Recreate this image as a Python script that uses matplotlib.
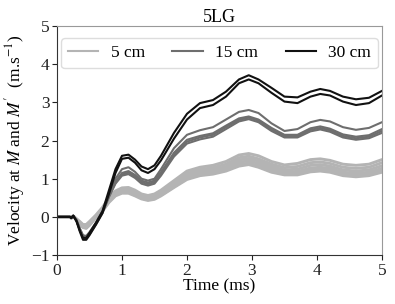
import matplotlib
matplotlib.use("Agg")
import matplotlib.pyplot as plt
import numpy as np

# time grid (ms)
t = [0, 0.1, 0.2, 0.22, 0.25, 0.3, 0.35, 0.4, 0.45, 0.5, 0.6, 0.7, 0.8, 0.9,
     1.0, 1.1, 1.2, 1.3, 1.4, 1.5, 1.6, 1.8, 2.0, 2.2, 2.4, 2.6, 2.8, 2.95,
     3.1, 3.3, 3.5, 3.7, 3.9, 4.05, 4.2, 4.4, 4.6, 4.8, 5.0]

# 5 cm gauges (light grey band)
v5_a = [0, 0, 0, -0.03, 0.02, -0.05, -0.12, -0.2, -0.2, -0.12, 0.05, 0.25, 0.5, 0.68,
        0.76, 0.77, 0.7, 0.6, 0.56, 0.6, 0.7, 0.95, 1.2, 1.3, 1.35, 1.45, 1.62, 1.66,
        1.6, 1.45, 1.36, 1.4, 1.5, 1.52, 1.48, 1.38, 1.35, 1.38, 1.5]
v5_b = [0, 0, 0, -0.03, 0.02, -0.06, -0.14, -0.22, -0.23, -0.15, 0.03, 0.22, 0.46, 0.64,
        0.72, 0.73, 0.66, 0.57, 0.52, 0.56, 0.66, 0.9, 1.14, 1.24, 1.29, 1.38, 1.55, 1.59,
        1.52, 1.38, 1.29, 1.32, 1.42, 1.44, 1.4, 1.3, 1.27, 1.3, 1.42]
v5_c = [0, 0, 0, -0.03, 0.02, -0.07, -0.15, -0.24, -0.25, -0.17, 0.01, 0.2, 0.44, 0.61,
        0.69, 0.7, 0.63, 0.54, 0.5, 0.53, 0.62, 0.86, 1.09, 1.19, 1.23, 1.32, 1.49, 1.53,
        1.46, 1.32, 1.23, 1.25, 1.35, 1.37, 1.33, 1.23, 1.2, 1.23, 1.34]
v5_d = [0, 0, 0, -0.03, 0.02, -0.07, -0.16, -0.25, -0.27, -0.19, -0.0, 0.18, 0.42, 0.59,
        0.66, 0.67, 0.6, 0.51, 0.47, 0.5, 0.59, 0.82, 1.05, 1.15, 1.19, 1.27, 1.43, 1.47,
        1.4, 1.26, 1.18, 1.19, 1.28, 1.3, 1.27, 1.17, 1.14, 1.17, 1.27]
v5_e = [0, 0, 0, -0.03, 0.02, -0.08, -0.17, -0.27, -0.29, -0.21, -0.01, 0.16, 0.4, 0.57,
        0.64, 0.64, 0.57, 0.49, 0.45, 0.48, 0.57, 0.79, 1.01, 1.11, 1.15, 1.23, 1.37, 1.41,
        1.34, 1.21, 1.13, 1.14, 1.23, 1.25, 1.22, 1.12, 1.09, 1.12, 1.22]
v5_f = [0, 0, 0, -0.03, 0.02, -0.08, -0.18, -0.28, -0.3, -0.22, -0.02, 0.15, 0.38, 0.55,
        0.62, 0.62, 0.55, 0.47, 0.43, 0.46, 0.55, 0.77, 0.98, 1.08, 1.12, 1.2, 1.33, 1.37,
        1.3, 1.17, 1.1, 1.1, 1.18, 1.2, 1.17, 1.08, 1.05, 1.08, 1.17]

# 15 cm gauges (mid grey)
v15_a = [0, 0, 0, -0.03, 0.03, -0.08, -0.3, -0.48, -0.5, -0.4, -0.15, 0.15, 0.6, 1.0,
         1.25, 1.3, 1.18, 1.0, 0.95, 1.0, 1.25, 1.8, 2.15, 2.27, 2.35, 2.55, 2.75, 2.8,
         2.72, 2.45, 2.25, 2.3, 2.48, 2.54, 2.5, 2.35, 2.28, 2.33, 2.48]
v15_b = [0, 0, 0, -0.03, 0.03, -0.09, -0.31, -0.5, -0.52, -0.42, -0.17, 0.13, 0.56, 0.93,
         1.15, 1.2, 1.1, 0.95, 0.9, 0.95, 1.17, 1.68, 2.02, 2.12, 2.19, 2.39, 2.58, 2.63,
         2.55, 2.33, 2.15, 2.15, 2.32, 2.37, 2.31, 2.16, 2.1, 2.14, 2.3]
v15_c = [0, 0, 0, -0.03, 0.03, -0.09, -0.32, -0.52, -0.54, -0.44, -0.18, 0.12, 0.54, 0.9,
         1.11, 1.16, 1.06, 0.91, 0.86, 0.91, 1.13, 1.63, 1.97, 2.08, 2.15, 2.35, 2.54, 2.6,
         2.52, 2.29, 2.12, 2.12, 2.28, 2.33, 2.27, 2.12, 2.06, 2.1, 2.25]
v15_d = [0, 0, 0, -0.03, 0.03, -0.1, -0.33, -0.53, -0.56, -0.46, -0.2, 0.1, 0.52, 0.87,
         1.08, 1.12, 1.02, 0.87, 0.82, 0.87, 1.08, 1.58, 1.92, 2.03, 2.1, 2.3, 2.5, 2.56,
         2.48, 2.25, 2.08, 2.08, 2.24, 2.29, 2.23, 2.08, 2.02, 2.06, 2.2]

# 30 cm gauges (black)
v30_a = [0, 0, 0, -0.03, 0.03, -0.1, -0.35, -0.55, -0.55, -0.42, -0.15, 0.15, 0.7, 1.25,
         1.6, 1.63, 1.5, 1.32, 1.25, 1.35, 1.6, 2.2, 2.7, 2.98, 3.06, 3.28, 3.6, 3.71,
         3.6, 3.38, 3.15, 3.13, 3.28, 3.35, 3.3, 3.15, 3.08, 3.12, 3.3]
v30_b = [0, 0, 0, -0.03, 0.03, -0.12, -0.38, -0.6, -0.6, -0.48, -0.2, 0.1, 0.6, 1.15,
         1.52, 1.55, 1.42, 1.22, 1.15, 1.25, 1.48, 2.05, 2.55, 2.85, 2.93, 3.15, 3.5, 3.6,
         3.5, 3.25, 3.02, 2.98, 3.15, 3.22, 3.18, 3.02, 2.93, 2.98, 3.18]

groups = [
    ("5 cm", "#b4b4b4", 2.1, [v5_a, v5_b, v5_c, v5_d, v5_e, v5_f]),
    ("15 cm", "#6e6e6e", 1.5, [v15_a, v15_b, v15_c, v15_d]),
    ("30 cm", "#111111", 1.5, [v30_a, v30_b]),
]

plt.rcParams['font.family'] = ['Liberation Serif', 'DejaVu Serif']
plt.rcParams['mathtext.fontset'] = 'stix'
fs = 12.5

fig = plt.figure(figsize=(3.95, 3.04), dpi=100)
ax = fig.add_axes([0.1443, 0.161, 0.8227, 0.7535])

for label, col, lw, curves in groups:
    for i, v in enumerate(curves):
        ax.plot(t, v, color=col, lw=lw, label=label if i == 0 else None,
                solid_joinstyle="round")

ax.set_xlim(0, 5)
ax.set_ylim(-1, 5)
ax.set_xticks(range(0, 6))
ax.set_yticks(range(-1, 6))
ax.tick_params(labelsize=fs, length=3.5, width=0.8, pad=2, colors="#222222")
for s in ("left", "bottom"):
    ax.spines[s].set_color("#333333")
for s in ("top", "right"):
    ax.spines[s].set_color("#999999")

ax.set_title("5LG", fontsize=13, pad=3)
ax.set_xlabel("Time (ms)", fontsize=fs, labelpad=0)
ax.set_ylabel("Velocity at $M$ and $M'$  (m.s$^{-1}$)", fontsize=fs, labelpad=3)

leg = ax.legend(loc="upper center", ncol=3, fontsize=fs, handlelength=1.75,
                handletextpad=0.7, columnspacing=1.6, framealpha=1,
                edgecolor="#dddddd", bbox_to_anchor=(0.5, 0.985))
for h in leg.get_lines():
    h.set_linewidth(1.5)

fig.savefig("out.png", dpi=100)
